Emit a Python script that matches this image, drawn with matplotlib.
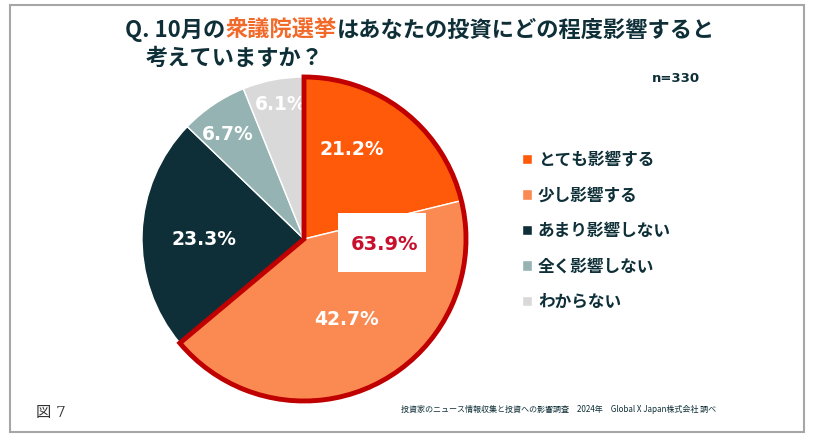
import numpy as np
import matplotlib.pyplot as plt
from matplotlib.patches import Wedge, Rectangle

plt.rcParams['font.family'] = ['Noto Sans CJK JP', 'DejaVu Sans']

# data
categories = ['とても影響する', '少し影響する', 'あまり影響しない', '全く影響しない', 'わからない']
values = [21.2, 42.7, 23.3, 6.7, 6.1]
colors = ['#FF5A0A', '#FA8A52', '#0E2F37', '#95B3B2', '#D9D9D9']
n_label = 'n=330'
title_a = 'Q. 10月の'
title_b = '衆議院選挙'
title_c = 'はあなたの投資にどの程度影響すると'
title_2 = '考えていますか？'
source = '投資家のニュース情報収集と投資への影響調査\u30002024年\u3000Global X Japan株式会社 調べ'
fig_no = '図 7'

W, H = 822, 445
dark = '#0E2F37'
red = '#C00000'

fig = plt.figure(figsize=(W / 100, H / 100), dpi=100)
ax = fig.add_axes([0, 0, 1, 1])

cx, cy, r = 304, H - 239, 162
wedges, _ = ax.pie(values, colors=colors, startangle=90, counterclock=False,
                   center=(cx, cy), radius=r,
                   wedgeprops=dict(edgecolor='white', linewidth=1.0))

# percentage labels (distance from centre, small angle nudge)
dists = [0.63, 0.56, 0.62, 0.80, 0.845]
nudge = [10, 1, 2, 2, -1]
for w, v, d, a in zip(wedges, values, dists, nudge):
    ang = np.deg2rad((w.theta1 + w.theta2) / 2 + a)
    ax.text(cx + d * r * np.cos(ang), cy + d * r * np.sin(ang), f'{v:.1f}%',
            ha='center', va='center', color='white', fontsize=13.5,
            fontweight='bold', family='DejaVu Sans')

# highlight of the first two slices
top2 = values[0] + values[1]
ax.add_patch(Wedge((cx, cy), r, 90 - 360 * top2 / 100, 90, fill=False,
                   edgecolor=red, linewidth=3.5, zorder=5))
ax.add_patch(Rectangle((338, H - 272), 88, 59, facecolor='white', edgecolor='none', zorder=6))
ax.text(384, H - 245, f'{top2:.1f}%', ha='center', va='center', color='#C8102E',
        fontsize=14, fontweight='bold', family='DejaVu Sans', zorder=7)

# legend
leg = ax.legend(wedges, categories, loc='upper left', bbox_to_anchor=(507 / W, 1 - 136 / H),
                frameon=False, fontsize=12, handlelength=0.6, handleheight=0.6,
                handletextpad=0.35, labelspacing=1.05)
for t in leg.get_texts():
    t.set_color(dark)
    t.set_fontweight('bold')

# titles
t1 = ax.text(125, H - 30, title_a, fontsize=16, fontweight='bold', color=dark, va='center')
t2 = ax.annotate(title_b, xy=(1, 0), xycoords=t1, va='bottom', fontsize=16,
                 fontweight='bold', color='#F26A2A')
ax.annotate(title_c, xy=(1, 0), xycoords=t2, va='bottom', fontsize=16,
            fontweight='bold', color=dark)
ax.text(146, H - 58, title_2, fontsize=16, fontweight='bold', color=dark, va='center')

ax.text(700, H - 78, n_label, ha='right', va='center', fontsize=9.5, fontweight='bold',
        color=dark, family='DejaVu Sans')
ax.text(716, H - 409, source, ha='right', va='center', fontsize=5.8, color=dark)
ax.text(36, H - 413, fig_no, ha='left', va='center', fontsize=11, color='#333333',
        family=['DejaVu Serif', 'Noto Sans CJK JP'])

ax.add_patch(Rectangle((10, H - 432), 794, 427, fill=False, edgecolor='#A6A6A6', linewidth=1.5))

ax.set_xlim(0, W)
ax.set_ylim(0, H)
ax.axis('off')

plt.savefig('out.png', dpi=100)
plt.close()
